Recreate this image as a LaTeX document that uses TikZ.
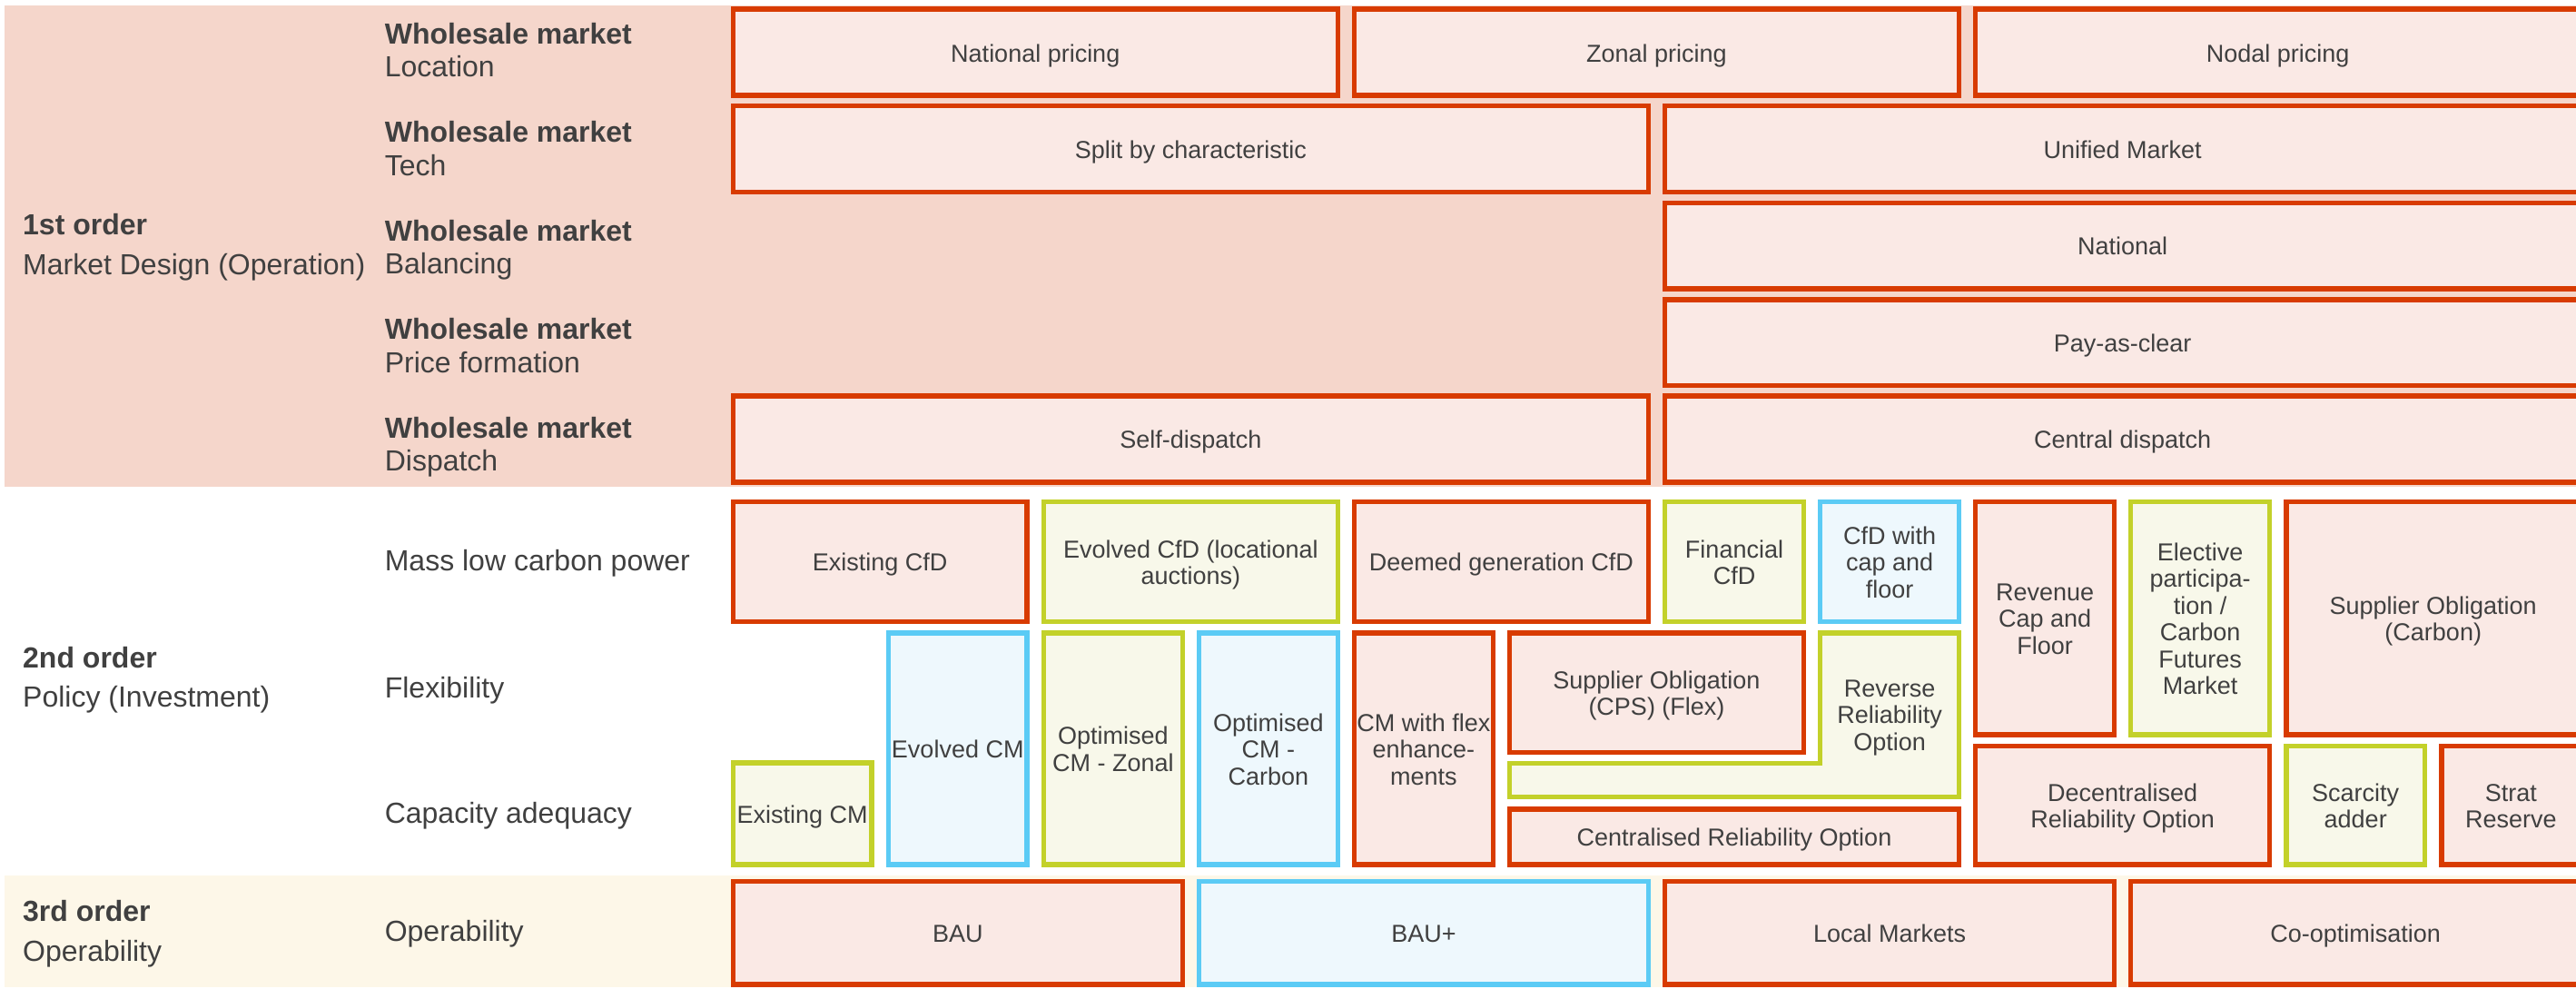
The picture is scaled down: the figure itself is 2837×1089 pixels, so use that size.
\documentclass[tikz,border=0pt]{standalone}
\usepackage{fontspec}
\setmainfont{Liberation Sans}
\definecolor{redB}{HTML}{D83B01}
\definecolor{redF}{HTML}{FAE9E5}
\definecolor{grnB}{HTML}{C3D12A}
\definecolor{grnF}{HTML}{F8F8EA}
\definecolor{bluB}{HTML}{5BCBF5}
\definecolor{bluF}{HTML}{EEF8FD}
\definecolor{bandA}{HTML}{F5D6CB}
\definecolor{bandC}{HTML}{FDF7E8}
\definecolor{txt}{HTML}{404040}
\newcommand\labfont{\fontsize{32}{36}\selectfont}
\newcommand\cellfont{\fontsize{27}{29.5}\selectfont}
% grid: column i starts at 804.5 + 171.05 i, each column is 158.4 wide
\newcommand\cellbox[7]{% name, style, first col, top, last col, bottom, text
  \pgfmathsetmacro\xa{804.5+171.05*#3}%
  \pgfmathsetmacro\xb{804.5+171.05*#5+158.4}%
  \pgfmathsetmacro\cw{\xb-\xa-5.5}%
  \pgfmathsetmacro\ch{#6-#4-5.5}%
  \node[#2, minimum width=\cw pt, minimum height=\ch pt] (#1) at ({(\xa+\xb)/2},{(#4+#6)/2}) {};%
  \node[celltext] (#1-t) at ([yshift=-3.5pt]#1.center) {#7\vphantom{g}};%
}
\tikzset{
  cell/.style={draw, line width=5.5pt, inner sep=0pt},
  redc/.style={cell, draw=redB, fill=redF},
  grnc/.style={cell, draw=grnB, fill=grnF},
  bluc/.style={cell, draw=bluB, fill=bluF},
  celltext/.style={inner sep=0pt, align=center, text=txt, font=\cellfont},
  lab/.style={anchor=base west, inner sep=0pt, text=txt, font=\labfont},
}
\begin{document}
\begin{tikzpicture}[x=1pt,y=-1pt]
\useasboundingbox (0,0) rectangle (2837,1089);
\clip (0,0) rectangle (2837,1089);
\fill[white] (0,0) rectangle (2837,1089);
% tier bands
\fill[bandA] (5,6) rectangle (2837,535.5);
\fill[bandC] (5,963.8) rectangle (2837,1087);

% tier labels
\node[lab] (o1a) at (25,258.3) {\bfseries 1st order};
\node[lab] (o1b) at (25,302.7) {Market Design (Operation)};
\node[lab] (o2a) at (25,735) {\bfseries 2nd order};
\node[lab] (o2b) at (25,778.3) {Policy (Investment)};
\node[lab] (o3a) at (25,1014.5) {\bfseries 3rd order};
\node[lab] (o3b) at (25,1058) {Operability};

% row labels
\node[lab] (w1a) at (423.6,48.2) {\bfseries Wholesale market};
\node[lab] (w1b) at (423.6,84.5) {Location};
\node[lab] (w2a) at (423.6,156.7) {\bfseries Wholesale market};
\node[lab] (w2b) at (423.6,193) {Tech};
\node[lab] (w3a) at (423.6,265.2) {\bfseries Wholesale market};
\node[lab] (w3b) at (423.6,301.5) {Balancing};
\node[lab] (w4a) at (423.6,373.6) {\bfseries Wholesale market};
\node[lab] (w4b) at (423.6,410) {Price formation};
\node[lab] (w5a) at (423.6,482.1) {\bfseries Wholesale market};
\node[lab] (w5b) at (423.6,518) {Dispatch};
\node[lab] (r1) at (423.6,628) {Mass low carbon power};
\node[lab] (r2) at (423.6,768) {Flexibility};
\node[lab] (r3) at (423.6,906.5) {Capacity adequacy};
\node[lab] (r4) at (423.6,1036.5) {Operability};

% 1st order options
\cellbox{natp}{redc}{0}{7.5}{3}{107.8}{National pricing}
\cellbox{zonp}{redc}{4}{7.5}{7}{107.8}{Zonal pricing}
\cellbox{nodp}{redc}{8}{7.5}{11}{107.8}{Nodal pricing}
\cellbox{split}{redc}{0}{113.8}{5}{214}{Split by characteristic}
\cellbox{unif}{redc}{6}{113.8}{11}{214}{Unified Market}
\cellbox{natb}{redc}{6}{220.5}{11}{320.5}{National}
\cellbox{pac}{redc}{6}{327}{11}{427}{Pay-as-clear}
\cellbox{selfd}{redc}{0}{433.3}{5}{533.6}{Self-dispatch}
\cellbox{centd}{redc}{6}{433.3}{11}{533.6}{Central dispatch}

% 2nd order options
\cellbox{excfd}{redc}{0}{549.6}{1}{687}{Existing CfD}
\cellbox{evcfd}{grnc}{2}{549.6}{3}{687}{Evolved CfD (locational\\auctions)}
\cellbox{deemed}{redc}{4}{549.6}{5}{687}{Deemed generation CfD}
\cellbox{fincfd}{grnc}{6}{549.6}{6}{687}{Financial\\CfD}
\cellbox{capcfd}{bluc}{7}{549.6}{7}{687}{CfD with\\cap and\\floor}
\cellbox{revcap}{redc}{8}{549.6}{8}{811.6}{Revenue\\Cap and\\Floor}
\cellbox{elect}{grnc}{9}{549.6}{9}{811.6}{Elective\\participa-\\tion /\\Carbon\\Futures\\Market}
\cellbox{socarb}{redc}{10}{549.6}{11}{811.6}{Supplier Obligation\\(Carbon)}
\cellbox{excm}{grnc}{0}{837.3}{0}{954.5}{Existing CM}
\cellbox{evcm}{bluc}{1}{694}{1}{954.5}{Evolved CM}
\cellbox{optz}{grnc}{2}{694}{2}{954.5}{Optimised\\CM - Zonal}
\cellbox{optc}{bluc}{3}{694}{3}{954.5}{Optimised\\CM -\\Carbon}
\cellbox{cmflex}{redc}{4}{694}{4}{954.5}{CM with flex\\enhance-\\ments}
\cellbox{socps}{redc}{5}{694}{6}{831}{Supplier Obligation\\(CPS) (Flex)}
% L-shaped reverse reliability option
\draw[line width=5.5pt, draw=grnB, fill=grnF]
  (2004.6,696.75) -- (2157.5,696.75) -- (2157.5,877.25) -- (1662.5,877.25)
  -- (1662.5,840.25) -- (2004.6,840.25) -- cycle;
\node[celltext] (rro) at (2081.05,790.5) {Reverse\\Reliability\\Option};
\cellbox{centro}{redc}{5}{888}{7}{954.5}{Centralised Reliability Option}
\cellbox{decro}{redc}{8}{818.8}{9}{954.5}{Decentralised\\Reliability Option}
\cellbox{scarc}{grnc}{10}{818.8}{10}{954.5}{Scarcity\\adder}
\cellbox{strat}{redc}{11}{818.8}{11}{954.5}{Strat\\Reserve}

% 3rd order options
\cellbox{bau}{redc}{0}{967.5}{2}{1086.7}{BAU}
\cellbox{baup}{bluc}{3}{967.5}{5}{1086.7}{BAU+}
\cellbox{locm}{redc}{6}{967.5}{8}{1086.7}{Local Markets}
\cellbox{coopt}{redc}{9}{967.5}{11}{1086.7}{Co-optimisation}
\end{tikzpicture}
\end{document}
